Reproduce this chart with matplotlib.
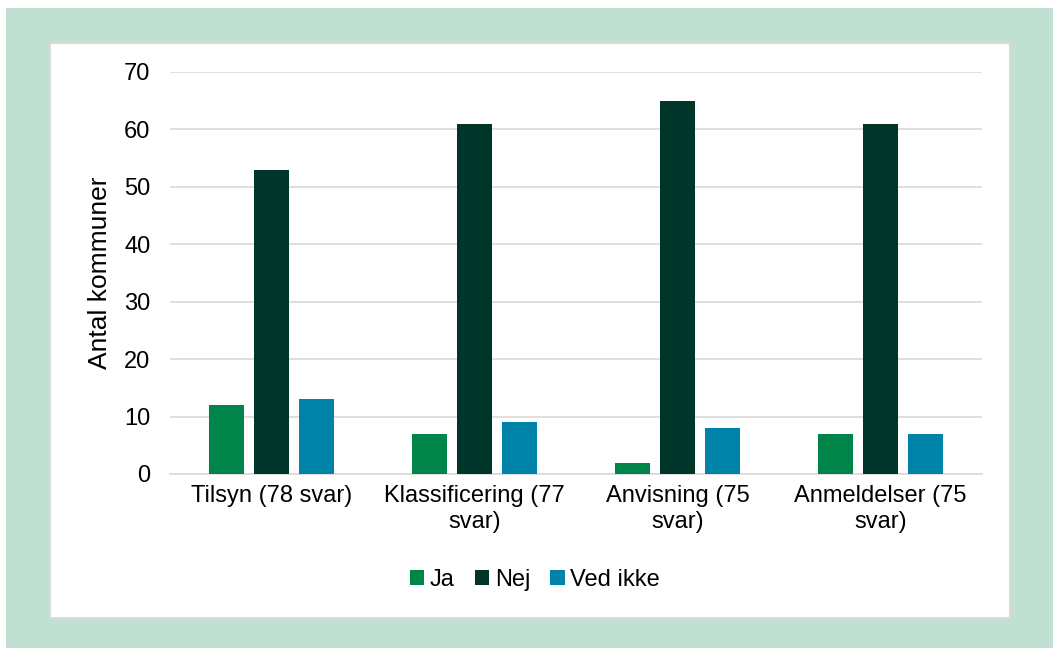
import numpy as np
import matplotlib.pyplot as plt
from matplotlib.patches import Rectangle

plt.rcParams['font.family'] = ['Liberation Sans', 'DejaVu Sans']

categories = ['Tilsyn (78 svar)', 'Klassificering (77\nsvar)', 'Anvisning (75\nsvar)', 'Anmeldelser (75\nsvar)']
ja = [12, 7, 2, 7]
nej = [53, 61, 65, 61]
ved_ikke = [13, 9, 8, 7]
series = ['Ja', 'Nej', 'Ved ikke']
colors = ['#00844A', '#00352A', '#0083AB']

fig = plt.figure(figsize=(10.53, 6.48), dpi=100)
W, H = 1053, 648

# green frame and white inner panel
fig.patches.append(Rectangle((6 / W, 0), 1 - 6 / W, 1 - 8 / H, transform=fig.transFigure,
                             facecolor='#C0E1D2', edgecolor='none', zorder=0))
fig.patches.append(Rectangle((50 / W, 1 - 618 / H), 960 / W, 575 / H, transform=fig.transFigure,
                             facecolor='white', edgecolor='#D9D9D9', linewidth=1.5, zorder=1))

ax = fig.add_axes([170 / W, 1 - 474 / H, 812 / W, 402 / H])
ax.set_zorder(2)
ax.patch.set_visible(False)

x = np.arange(len(categories))
width = 0.172
offset = 0.222
for i, (vals, name, c) in enumerate(zip([ja, nej, ved_ikke], series, colors)):
    ax.bar(x + (i - 1) * offset, vals, width, color=c, label=name, zorder=3)

ax.set_xlim(-0.5, len(categories) - 0.5)
ax.set_ylim(0, 70)
ax.set_yticks(range(0, 71, 10))
ax.set_xticks(x)
ax.set_xticklabels(categories, fontsize=17, linespacing=1.25)
ax.tick_params(axis='y', labelsize=17, length=0, pad=14)
ax.tick_params(axis='x', length=0, pad=8)
ax.grid(axis='y', color='#D9D9D9', linewidth=1.2, zorder=0)
for s in ['top', 'right', 'left']:
    ax.spines[s].set_visible(False)
ax.spines['bottom'].set_color('#D9D9D9')
ax.spines['bottom'].set_linewidth(1.2)
ax.set_ylabel('Antal kommuner', fontsize=19, labelpad=9)

fig.legend(loc='center', bbox_to_anchor=(535 / W, 1 - 580 / H), ncol=3, frameon=False,
           fontsize=17, handlelength=0.6, handleheight=0.6, handletextpad=0.25, columnspacing=0.85)

fig.savefig('out.png', dpi=100)
